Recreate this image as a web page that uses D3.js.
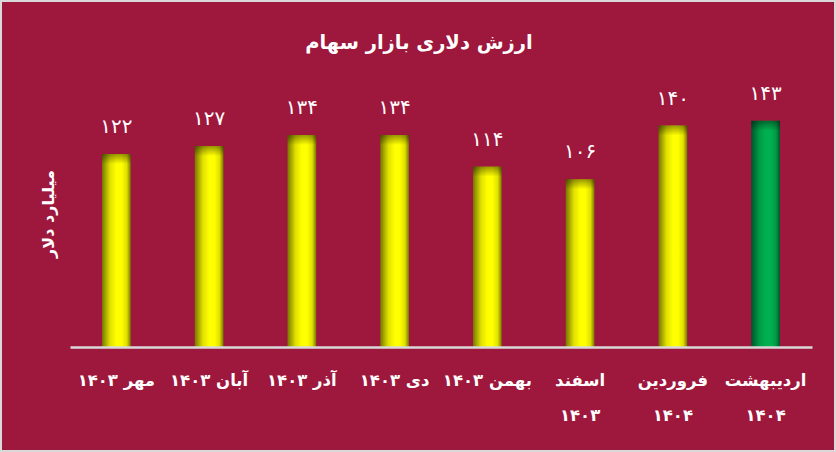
<!DOCTYPE html>
<html>
<head>
<meta charset="utf-8">
<script src="https://cdn.jsdelivr.net/npm/d3@7"></script>
<style>
  html, body { margin: 0; padding: 0; background: #fff; }
  svg { display: block; }
</style>
</head>
<body>
<script>
const title = "ارزش دلاری بازار سهام";
const yAxisLabel = "میلیارد دلار";
const categories = [
  ["مهر ۱۴۰۳"],
  ["آبان ۱۴۰۳"],
  ["آذر ۱۴۰۳"],
  ["دی ۱۴۰۳"],
  ["بهمن ۱۴۰۳"],
  ["اسفند", "۱۴۰۳"],
  ["فروردین", "۱۴۰۴"],
  ["اردیبهشت", "۱۴۰۴"]
];
const values = [122, 127, 134, 134, 114, 106, 140, 143];
const highlight = [false, false, false, false, false, false, false, true];

const W = 836, H = 452;
const toFa = n => String(n).replace(/\d/g, d => "۰۱۲۳۴۵۶۷۸۹"[d]);

const svg = d3.select("body").append("svg").attr("width", W).attr("height", H);
const defs = svg.append("defs");

function hGrad(id, edge, mid, center) {
  const g = defs.append("linearGradient").attr("id", id)
    .attr("x1", "0%").attr("x2", "100%").attr("y1", "0%").attr("y2", "0%");
  g.append("stop").attr("offset", "0%").attr("stop-color", edge);
  g.append("stop").attr("offset", "28%").attr("stop-color", mid);
  g.append("stop").attr("offset", "50%").attr("stop-color", center);
  g.append("stop").attr("offset", "68%").attr("stop-color", center);
  g.append("stop").attr("offset", "86%").attr("stop-color", mid);
  g.append("stop").attr("offset", "100%").attr("stop-color", edge);
}
hGrad("gYellow", "#767600", "#e0e000", "#ffff00");
hGrad("gGreen", "#00552a", "#009a45", "#00b050");

const topShade = defs.append("linearGradient").attr("id", "gTop")
  .attr("x1", "0%").attr("x2", "0%").attr("y1", "0%").attr("y2", "100%");
topShade.append("stop").attr("offset", "0%").attr("stop-color", "#000").attr("stop-opacity", 0.4);
topShade.append("stop").attr("offset", "100%").attr("stop-color", "#000").attr("stop-opacity", 0);

// background + border
svg.append("rect").attr("x", 0).attr("y", 0).attr("width", W).attr("height", H).attr("fill", "#d9d9d9");
svg.append("rect").attr("x", 2).attr("y", 2).attr("width", W - 4).attr("height", H - 4).attr("fill", "#9e173c");

const x = d3.scaleBand().domain(d3.range(values.length)).range([70, 812]).padding(0);
const y = d3.scaleLinear().domain([0, 160]).range([347, 347 - 160 * 1.582]);
const barW = x.bandwidth() * 0.31;

const g = svg.append("g");

// bars
const bars = g.selectAll("g.bar").data(values).join("g").attr("class", "bar");
bars.append("rect")
  .attr("x", (d, i) => x(i) + x.bandwidth() / 2 - barW / 2)
  .attr("y", d => y(d))
  .attr("width", barW)
  .attr("height", d => y(0) - y(d))
  .attr("fill", (d, i) => highlight[i] ? "url(#gGreen)" : "url(#gYellow)");
bars.append("rect")
  .attr("x", (d, i) => x(i) + x.bandwidth() / 2 - barW / 2)
  .attr("y", d => y(d))
  .attr("width", barW)
  .attr("height", 10)
  .attr("fill", "url(#gTop)");

// axis line
const axis = d3.axisBottom(x).tickSize(0).tickFormat("");
g.append("g").attr("transform", "translate(0,347)").call(axis)
  .call(s => s.select(".domain").attr("stroke", "#d9d9d9").attr("stroke-width", 2.5));

// value labels
g.selectAll("text.val").data(values).join("text").attr("class", "val")
  .attr("x", (d, i) => x(i) + x.bandwidth() / 2)
  .attr("y", d => y(d) - 21)
  .attr("text-anchor", "middle")
  .attr("fill", "#ffffff")
  .attr("font-family", "DejaVu Sans, sans-serif")
  .attr("font-size", 20)
  .text(d => toFa(d));

// category labels
const cat = g.selectAll("text.cat").data(categories).join("text").attr("class", "cat")
  .attr("text-anchor", "middle")
  .attr("fill", "#ffffff")
  .attr("font-family", "DejaVu Sans, sans-serif")
  .attr("font-weight", "bold")
  .attr("font-size", 16.5)
  .attr("direction", "rtl");
cat.each(function(lines, i) {
  const t = d3.select(this);
  lines.forEach((ln, j) => {
    t.append("tspan")
      .attr("x", x(i) + x.bandwidth() / 2)
      .attr("y", 386 + j * 35)
      .text(ln);
  });
});

// title
svg.append("text")
  .attr("x", 419).attr("y", 49)
  .attr("text-anchor", "middle")
  .attr("fill", "#ffffff")
  .attr("font-family", "DejaVu Sans, sans-serif")
  .attr("font-weight", "bold")
  .attr("font-size", 19.5)
  .attr("direction", "rtl")
  .text(title);

// y axis label
svg.append("text")
  .attr("transform", "translate(54,214) rotate(-90)")
  .attr("text-anchor", "middle")
  .attr("fill", "#ffffff")
  .attr("font-family", "DejaVu Sans, sans-serif")
  .attr("font-weight", "bold")
  .attr("font-size", 16)
  .attr("direction", "rtl")
  .text(yAxisLabel);
</script>
</body>
</html>
